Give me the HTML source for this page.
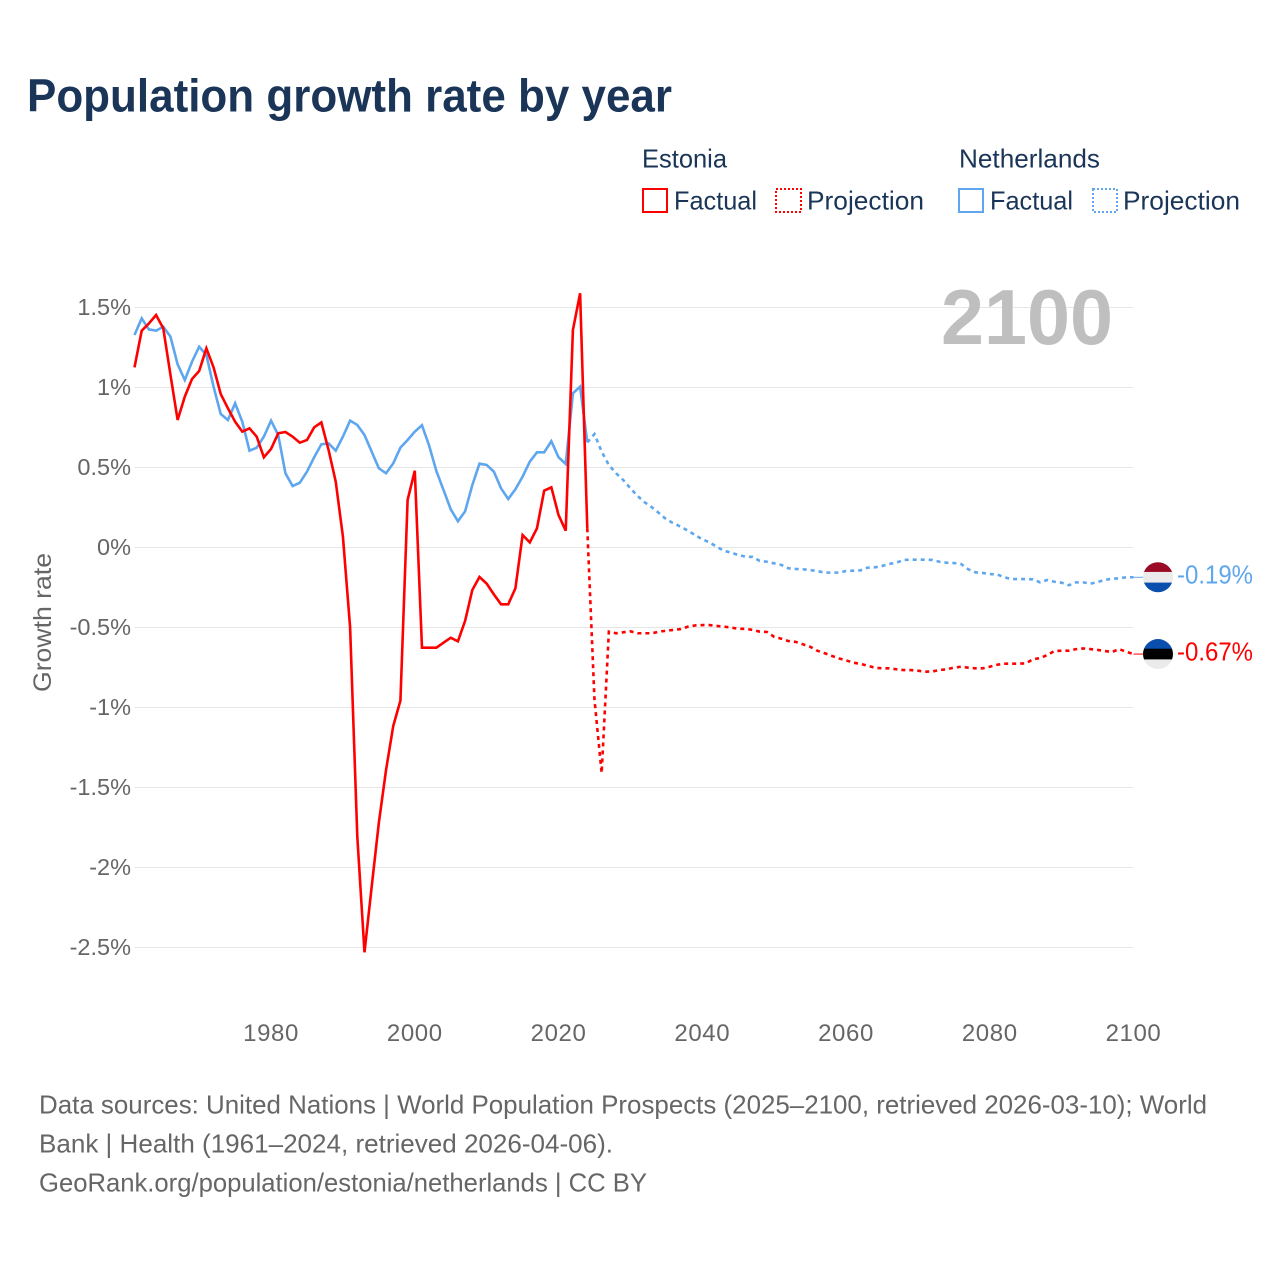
<!DOCTYPE html>
<html lang="en">
<head>
<meta charset="utf-8">
<title>Population growth rate by year</title>
<style>
html,body{margin:0;padding:0;background:#fff;}
svg{display:block;font-family:"Liberation Sans",sans-serif;}
</style>
</head>
<body>
<svg id="chart" xmlns="http://www.w3.org/2000/svg" width="1280" height="1280" viewBox="0 0 1280 1280">
  <rect width="1280" height="1280" fill="#fff"/>
  <text x="27" y="111.5" font-size="46" font-weight="700" fill="#1a3557" textLength="645" lengthAdjust="spacingAndGlyphs">Population growth rate by year</text>

  <g font-size="26" fill="#1a3557">
    <text x="642" y="167.5" textLength="85" lengthAdjust="spacingAndGlyphs">Estonia</text>
    <text x="959" y="167.5" textLength="141" lengthAdjust="spacingAndGlyphs">Netherlands</text>
    <rect x="643" y="189" width="24" height="23" fill="none" stroke="#ff0000" stroke-width="2"/>
    <text x="674" y="209.5" textLength="83" lengthAdjust="spacingAndGlyphs">Factual</text>
    <rect x="776" y="189" width="25" height="23" fill="none" stroke="#ff0000" stroke-width="2" stroke-dasharray="2 2"/>
    <text x="807" y="209.5" textLength="117" lengthAdjust="spacingAndGlyphs">Projection</text>
    <rect x="959" y="189" width="24" height="23" fill="none" stroke="#5ea6ee" stroke-width="2"/>
    <text x="990" y="209.5" textLength="83" lengthAdjust="spacingAndGlyphs">Factual</text>
    <rect x="1093" y="189" width="24" height="23" fill="none" stroke="#5ea6ee" stroke-width="2" stroke-dasharray="2 2"/>
    <text x="1123" y="209.5" textLength="117" lengthAdjust="spacingAndGlyphs">Projection</text>
  </g>

  <g id="grid"></g>
  <g id="yticks" font-size="23.5" fill="#666" text-anchor="end"></g>
  <g id="xticks" font-size="24" fill="#666" text-anchor="middle" letter-spacing="0.6"></g>

  <text transform="translate(51,692) rotate(-90)" font-size="25" fill="#666" textLength="139" lengthAdjust="spacingAndGlyphs">Growth rate</text>
  <text x="941" y="344" font-size="78" font-weight="700" fill="#bfbfbf" textLength="172" lengthAdjust="spacingAndGlyphs">2100</text>

  <g id="series"></g>

  <defs>
    <clipPath id="flag-clip-nl"><circle id="clip-nl" r="15"/></clipPath>
    <clipPath id="flag-clip-ee"><circle id="clip-ee" r="15"/></clipPath>
  </defs>
  <g id="flags"></g>
  <g id="endlabels" font-size="26"></g>

  <g font-size="26" fill="#666">
    <text x="39" y="1113.5" textLength="1168" lengthAdjust="spacingAndGlyphs">Data sources: United Nations | World Population Prospects (2025–2100, retrieved 2026-03-10); World</text>
    <text x="39" y="1152.5" textLength="574" lengthAdjust="spacingAndGlyphs">Bank | Health (1961–2024, retrieved 2026-04-06).</text>
    <text x="39" y="1191.5" textLength="608" lengthAdjust="spacingAndGlyphs">GeoRank.org/population/estonia/netherlands | CC BY</text>
  </g>
</svg>
<script>
const yTickValues = [1.5, 1, 0.5, 0, -0.5, -1, -1.5, -2, -2.5];
const yTickLabels = ["1.5%", "1%", "0.5%", "0%", "-0.5%", "-1%", "-1.5%", "-2%", "-2.5%"];
const xTickValues = [1980, 2000, 2020, 2040, 2060, 2080, 2100];
const xTickLabels = ["1980", "2000", "2020", "2040", "2060", "2080", "2100"];

const yearsFactual = [1961,1962,1963,1964,1965,1966,1967,1968,1969,1970,1971,1972,1973,1974,1975,1976,1977,1978,1979,1980,1981,1982,1983,1984,1985,1986,1987,1988,1989,1990,1991,1992,1993,1994,1995,1996,1997,1998,1999,2000,2001,2002,2003,2004,2005,2006,2007,2008,2009,2010,2011,2012,2013,2014,2015,2016,2017,2018,2019,2020,2021,2022,2023,2024];
const yearsProjection = [2024,2025,2026,2027,2028,2029,2030,2031,2032,2033,2034,2035,2036,2037,2038,2039,2040,2041,2042,2043,2044,2045,2046,2047,2048,2049,2050,2051,2052,2053,2054,2055,2056,2057,2058,2059,2060,2061,2062,2063,2064,2065,2066,2067,2068,2069,2070,2071,2072,2073,2074,2075,2076,2077,2078,2079,2080,2081,2082,2083,2084,2085,2086,2087,2088,2089,2090,2091,2092,2093,2094,2095,2096,2097,2098,2099,2100];

const netherlandsFactual = [1.328,1.432,1.363,1.355,1.38,1.318,1.145,1.047,1.161,1.255,1.203,1.005,0.834,0.797,0.901,0.786,0.605,0.624,0.693,0.793,0.703,0.464,0.384,0.405,0.474,0.564,0.645,0.651,0.605,0.693,0.793,0.766,0.703,0.599,0.495,0.464,0.526,0.624,0.672,0.724,0.764,0.636,0.478,0.359,0.239,0.164,0.226,0.39,0.524,0.516,0.474,0.37,0.303,0.364,0.443,0.536,0.595,0.595,0.664,0.564,0.522,0.964,1.005,0.657];
const netherlandsProjection = [0.657,0.709,0.599,0.516,0.464,0.422,0.37,0.322,0.282,0.251,0.214,0.176,0.151,0.13,0.105,0.078,0.051,0.032,0.005,-0.02,-0.032,-0.047,-0.057,-0.059,-0.084,-0.089,-0.099,-0.109,-0.13,-0.134,-0.136,-0.141,-0.147,-0.157,-0.157,-0.157,-0.147,-0.145,-0.143,-0.126,-0.124,-0.116,-0.103,-0.095,-0.078,-0.076,-0.076,-0.076,-0.078,-0.089,-0.095,-0.097,-0.103,-0.136,-0.155,-0.159,-0.166,-0.168,-0.186,-0.197,-0.197,-0.197,-0.199,-0.218,-0.203,-0.214,-0.22,-0.236,-0.218,-0.218,-0.226,-0.216,-0.203,-0.195,-0.193,-0.186,-0.186];
const estoniaFactual = [1.126,1.355,1.4,1.453,1.37,1.08,0.797,0.943,1.053,1.103,1.245,1.126,0.959,0.87,0.786,0.724,0.745,0.693,0.564,0.616,0.714,0.722,0.693,0.655,0.672,0.751,0.782,0.61,0.411,0.068,-0.5,-1.807,-2.53,-2.12,-1.72,-1.39,-1.116,-0.957,0.297,0.48,-0.626,-0.626,-0.626,-0.595,-0.564,-0.586,-0.459,-0.266,-0.184,-0.226,-0.293,-0.355,-0.355,-0.255,0.078,0.032,0.12,0.355,0.376,0.203,0.105,1.359,1.589,0.12];
const estoniaProjection = [0.12,-0.95,-1.41,-0.526,-0.536,-0.53,-0.524,-0.536,-0.536,-0.536,-0.526,-0.52,-0.515,-0.51,-0.495,-0.487,-0.485,-0.485,-0.49,-0.495,-0.5,-0.508,-0.508,-0.515,-0.526,-0.528,-0.558,-0.57,-0.585,-0.59,-0.605,-0.62,-0.645,-0.66,-0.677,-0.693,-0.705,-0.72,-0.727,-0.739,-0.751,-0.755,-0.755,-0.761,-0.766,-0.766,-0.77,-0.776,-0.775,-0.766,-0.761,-0.751,-0.745,-0.751,-0.755,-0.755,-0.745,-0.733,-0.726,-0.726,-0.726,-0.724,-0.699,-0.691,-0.672,-0.647,-0.645,-0.645,-0.635,-0.631,-0.635,-0.64,-0.647,-0.653,-0.635,-0.652,-0.666];
const endValueLabels = ["-0.19%", "-0.67%"];

const NS = "http://www.w3.org/2000/svg";
const RED = "#ff0000";
const BLUE = "#5ea6ee";

function xScale(year) { return 134.5 + (year - 1961) * (1133.5 - 134.5) / (2100 - 1961); }
function yScale(value) { return 547.5 - value * 160; }

function make(tag, parentId, attrs) {
  const el = document.createElementNS(NS, tag);
  Object.keys(attrs).forEach(function (k) { el.setAttribute(k, attrs[k]); });
  document.getElementById(parentId).appendChild(el);
  return el;
}

yTickValues.forEach(function (v, i) {
  const line = make("line", "grid", { x1: 134.5, x2: 1133, y1: yScale(v), y2: yScale(v), stroke: "#e6e6e6", "stroke-width": 1 });
  
  
  const label = make("text", "yticks", { x: 131, y: yScale(v) + 7.5 });
  
  
  label.textContent = yTickLabels[i];
});

xTickValues.forEach(function (year, i) {
  const label = make("text", "xticks", { x: xScale(year), y: 1041 });
  
  
  label.textContent = xTickLabels[i];
});

function pointsFor(years, values) {
  return years.map(function (year, i) { return xScale(year).toFixed(2) + "," + yScale(values[i]).toFixed(2); }).join(" ");
}

function drawLine(years, values, color, dash) {
  const attrs = { points: pointsFor(years, values), fill: "none", stroke: color, "stroke-width": 2.6, "stroke-linejoin": "miter" };
  if (dash) { attrs["stroke-dasharray"] = dash; }
  return make("polyline", "series", attrs);
}

const nlFactualLine = drawLine(yearsFactual, netherlandsFactual, BLUE, null);


const nlProjectionLine = drawLine(yearsProjection, netherlandsProjection, BLUE, "4 4");


const eeFactualLine = drawLine(yearsFactual, estoniaFactual, RED, null);


const eeProjectionLine = drawLine(yearsProjection, estoniaProjection, RED, "4 4");



function drawFlag(code, cy, stripes, color) {
  const cx = 1158;
  const clip = document.getElementById("clip-" + code);
  clip.setAttribute("cx", cx);
  clip.setAttribute("cy", cy);
  const leader = make("line", "flags", { x1: 1133.5, x2: 1144, y1: cy, y2: cy, stroke: color, "stroke-width": 1 });
  
  
  const group = make("g", "flags", { "clip-path": "url(#flag-clip-" + code + ")" });
  
  
  stripes.forEach(function (fill, i) {
    const band = document.createElementNS(NS, "rect");
    band.setAttribute("x", cx - 16);
    band.setAttribute("y", cy - 16 + i * 32 / 3);
    band.setAttribute("width", 32);
    band.setAttribute("height", 32 / 3 + 0.5);
    band.setAttribute("fill", fill);
    
    
    group.appendChild(band);
  });
}

const nlEndY = yScale(netherlandsProjection[netherlandsProjection.length - 1]);
const eeEndY = yScale(estoniaProjection[estoniaProjection.length - 1]);
drawFlag("nl", nlEndY, ["#9b0a26", "#ebebeb", "#0a4fae"], BLUE);
drawFlag("ee", eeEndY, ["#0a4fae", "#000000", "#ebebeb"], RED);

const nlEndLabel = make("text", "endlabels", { x: 1177, y: nlEndY + 6, fill: BLUE, textLength: 76, lengthAdjust: "spacingAndGlyphs" });


nlEndLabel.textContent = endValueLabels[0];
const eeEndLabel = make("text", "endlabels", { x: 1177, y: eeEndY + 6.5, fill: RED, textLength: 76, lengthAdjust: "spacingAndGlyphs" });


eeEndLabel.textContent = endValueLabels[1];
</script>
</body>
</html>
